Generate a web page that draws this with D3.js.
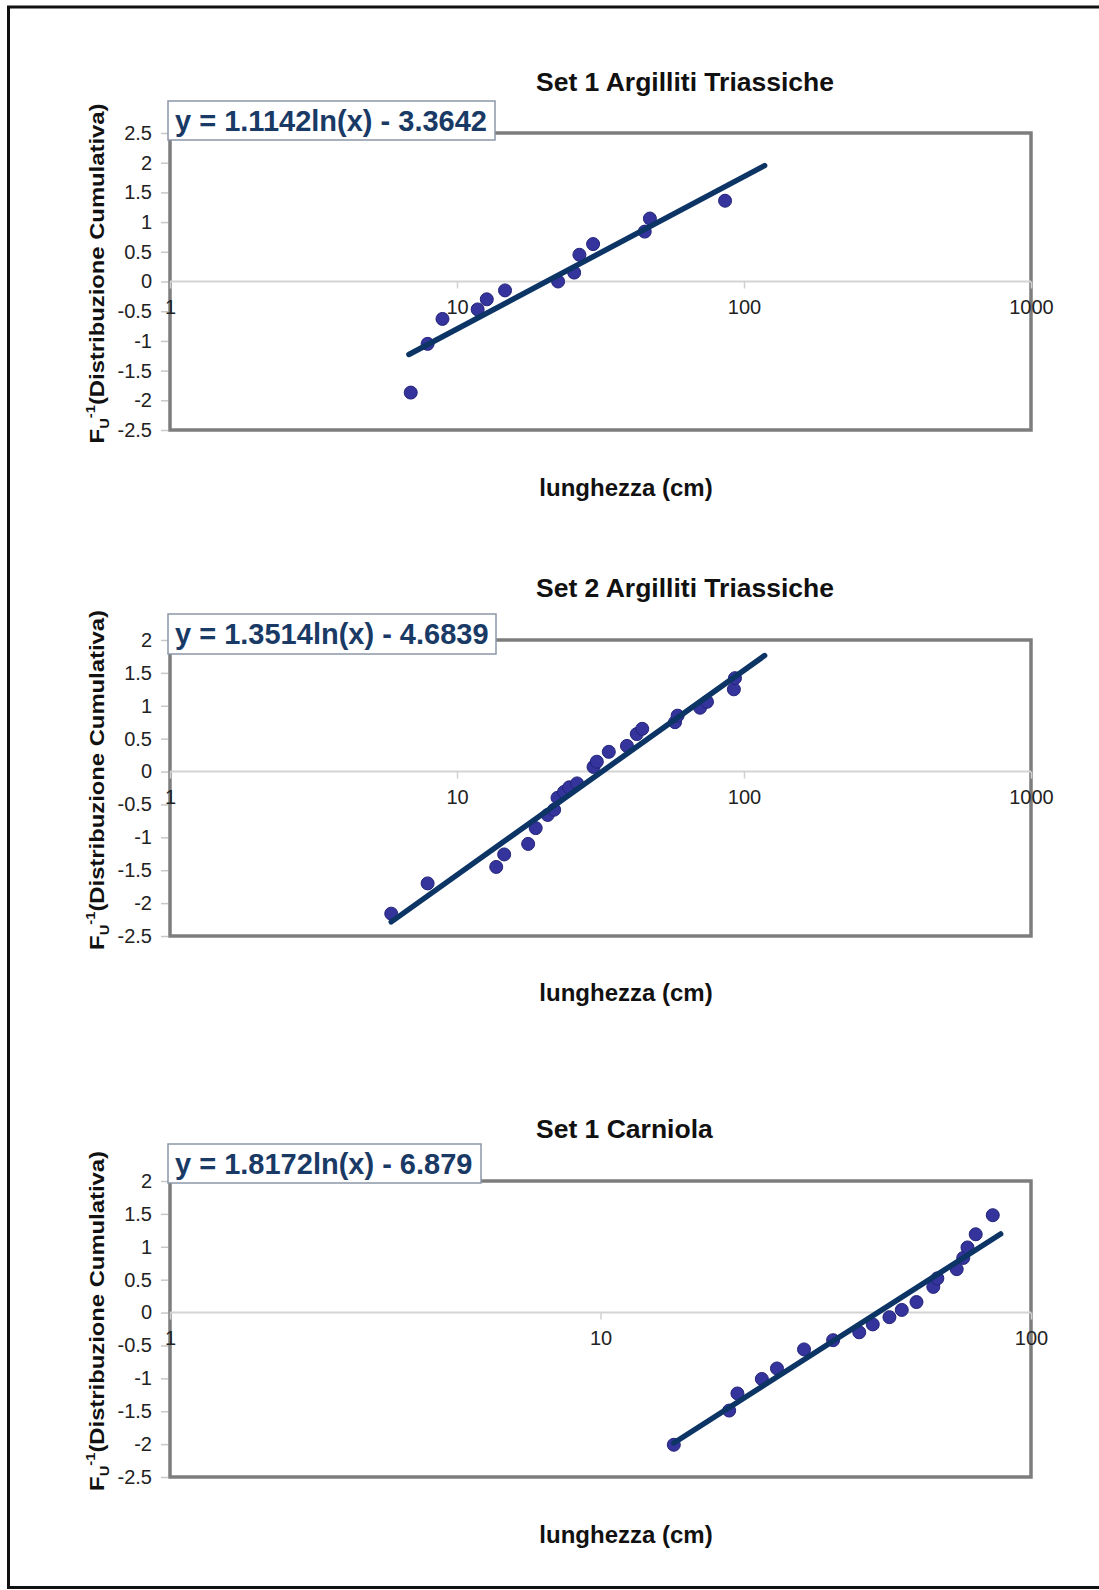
<!DOCTYPE html>
<html>
<head>
<meta charset="utf-8">
<script src="https://cdn.jsdelivr.net/npm/d3@7"></script>
<style>
  body { margin: 0; background: #fff; }
  svg { display: block; font-family: "Liberation Sans", Arial, sans-serif; }
</style>
</head>
<body>
<svg width="1099" height="1590"></svg>
<script>
// titles and fitted equations
const chartTitles = ["Set 1 Argilliti Triassiche", "Set 2 Argilliti Triassiche", "Set 1 Carniola"];
const equations = ["y = 1.1142ln(x) - 3.3642", "y = 1.3514ln(x) - 4.6839", "y = 1.8172ln(x) - 6.879"];
const slopes = [1.1142, 1.3514, 1.8172];
const intercepts = [-3.3642, -4.6839, -6.879];
// x range covered by each trend line
const trendFrom = [6.8, 5.9, 14.8];
const trendTo = [118, 118, 85];

// tick values
const xTicksWide = [1, 10, 100, 1000];
const xTicksShort = [1, 10, 100];
const yTicksWide = [2.5, 2, 1.5, 1, 0.5, 0, -0.5, -1, -1.5, -2, -2.5];
const yTicksShort = [2, 1.5, 1, 0.5, 0, -0.5, -1, -1.5, -2, -2.5];

// [lunghezza (cm), Fu^-1]
const set1Argilliti = [
  [6.9, -1.87], [7.9, -1.05], [8.9, -0.63], [11.8, -0.47], [12.7, -0.30],
  [14.7, -0.15], [22.5, 0.0], [25.6, 0.15], [26.7, 0.45], [29.8, 0.63],
  [45.1, 0.84], [47.0, 1.06], [85.9, 1.36]
];
const set2Argilliti = [
  [5.9, -2.16], [7.9, -1.70], [13.7, -1.45], [14.6, -1.26], [17.7, -1.10],
  [18.8, -0.86], [20.7, -0.66], [21.8, -0.58], [22.4, -0.40], [23.6, -0.31],
  [24.6, -0.24], [26.2, -0.18], [29.9, 0.07], [30.7, 0.15], [33.8, 0.30],
  [39.1, 0.39], [42.3, 0.57], [44.2, 0.65], [57.5, 0.75], [58.7, 0.85],
  [70.3, 0.97], [74.3, 1.06], [92.2, 1.25], [93.0, 1.42]
];
const set1Carniola = [
  [14.8, -2.01], [19.9, -1.49], [20.8, -1.23], [23.7, -1.01], [25.7, -0.85],
  [29.7, -0.56], [34.7, -0.42], [39.9, -0.30], [42.9, -0.18], [46.9, -0.07],
  [50.1, 0.04], [54.2, 0.16], [59.3, 0.39], [60.6, 0.52], [67.2, 0.66],
  [69.6, 0.83], [71.2, 0.99], [74.4, 1.19], [81.5, 1.48]
];

const svg = d3.select("svg");

// outer frame (top, left, bottom)
svg.append("path")
  .attr("d", "M1099,7H8.5V1587.5H1099")
  .attr("fill", "none")
  .attr("stroke", "#111")
  .attr("stroke-width", 3);

const left = 170, right = 1031;
const layout = [
  { top: 133, bottom: 430, titleY: 91, boxTop: 101, boxBottom: 140, boxRight: 495, xTitleY: 496, yMax: 2.5, xMax: 1000 },
  { top: 640, bottom: 936, titleY: 597, boxTop: 614, boxBottom: 654, boxRight: 496, xTitleY: 1001, yMax: 2, xMax: 1000 },
  { top: 1181, bottom: 1477, titleY: 1138, boxTop: 1144, boxBottom: 1183, boxRight: 481, xTitleY: 1543, yMax: 2, xMax: 100 }
];
const pointSets = [set1Argilliti, set2Argilliti, set1Carniola];
const xTickSets = [xTicksWide, xTicksWide, xTicksShort];
const yTickSets = [yTicksWide, yTicksShort, yTicksShort];

layout.forEach((L, i) => {
  const g = svg.append("g");
  const x = d3.scaleLog().domain([1, L.xMax]).range([left, right]);
  const y = d3.scaleLinear().domain([-2.5, L.yMax]).range([L.bottom, L.top]);

  // plot area border
  g.append("rect")
    .attr("x", left).attr("y", L.top)
    .attr("width", right - left).attr("height", L.bottom - L.top)
    .attr("fill", "#fff")
    .attr("stroke", "#7d7d7d")
    .attr("stroke-width", 3.5);

  // y axis ticks and labels (plain hyphen for negatives, as in Excel)
  const yAxis = d3.axisLeft(y).tickValues(yTickSets[i]).tickSize(7).tickPadding(9)
    .tickFormat((d) => String(d));
  const ya = g.append("g").attr("transform", `translate(${left - 2},0)`).call(yAxis);
  ya.select(".domain").remove();
  ya.selectAll(".tick line").attr("stroke", "#c8c8c8").attr("stroke-width", 1.5);
  ya.selectAll(".tick text")
    .attr("font-size", 20).attr("fill", "#222")
    .attr("font-family", "Liberation Sans, Arial, sans-serif");

  // horizontal axis at y = 0
  const zero = y(0);
  g.append("line")
    .attr("x1", left).attr("x2", right)
    .attr("y1", zero).attr("y2", zero)
    .attr("stroke", "#d4d4d4").attr("stroke-width", 2);
  const xAxis = d3.axisBottom(x).tickValues(xTickSets[i]).tickSize(7).tickPadding(11)
    .tickFormat(d3.format("d"));
  const xa = g.append("g").attr("transform", `translate(0,${zero})`).call(xAxis);
  xa.select(".domain").remove();
  xa.selectAll(".tick line").attr("stroke", "#d0d0d0").attr("stroke-width", 1.5);
  xa.selectAll(".tick text")
    .attr("font-size", 20).attr("fill", "#222")
    .attr("font-family", "Liberation Sans, Arial, sans-serif");

  // points
  g.selectAll(".pt")
    .data(pointSets[i])
    .enter()
    .append("circle")
    .attr("class", "pt")
    .attr("cx", (d) => x(d[0]))
    .attr("cy", (d) => y(d[1]))
    .attr("r", 6.5)
    .attr("fill", "#34349c")
    .attr("stroke", "#23237a")
    .attr("stroke-width", 1);

  // logarithmic trend line (straight on log x)
  const fit = (v) => slopes[i] * Math.log(v) + intercepts[i];
  const ends = [trendFrom[i], trendTo[i]];
  g.append("path")
    .datum(ends)
    .attr("d", d3.line().x((d) => x(d)).y((d) => y(fit(d))))
    .attr("fill", "none")
    .attr("stroke", "#0c3566")
    .attr("stroke-width", 5.5)
    .attr("stroke-linecap", "round");

  // equation box
  g.append("rect")
    .attr("x", 168).attr("y", L.boxTop)
    .attr("width", L.boxRight - 168).attr("height", L.boxBottom - L.boxTop)
    .attr("fill", "#fff")
    .attr("stroke", "#8c96a8")
    .attr("stroke-width", 1.5);
  g.append("text")
    .attr("x", 175)
    .attr("y", (L.boxTop + L.boxBottom) / 2 + 10)
    .attr("font-size", 29)
    .attr("font-weight", "bold")
    .attr("fill", "#1a3a66")
    .text(equations[i]);

  // chart title
  g.append("text")
    .attr("x", 536).attr("y", L.titleY)
    .attr("font-size", 26.5)
    .attr("font-weight", "bold")
    .attr("fill", "#111")
    .text(chartTitles[i]);

  // x axis title
  g.append("text")
    .attr("x", 626).attr("y", L.xTitleY)
    .attr("text-anchor", "middle")
    .attr("font-size", 24)
    .attr("font-weight", "bold")
    .attr("fill", "#111")
    .text("lunghezza (cm)");

  // y axis title, rotated
  const mid = (L.top + L.bottom) / 2 - 8;
  const yt = g.append("text")
    .attr("text-anchor", "middle")
    .attr("font-size", 21)
    .attr("font-weight", "bold")
    .attr("fill", "#111");
  yt.append("tspan").text("F");
  yt.append("tspan").attr("font-size", 13).attr("dy", 5).text("U");
  yt.append("tspan").attr("font-size", 13).attr("dy", -14).text("-1");
  yt.append("tspan").attr("dy", 9).text("(Distribuzione Cumulativa)");
  const len = yt.node().getComputedTextLength();
  yt.attr("transform", `translate(104,${mid}) rotate(-90) scale(${340 / len},1)`);
});
</script>
</body>
</html>
